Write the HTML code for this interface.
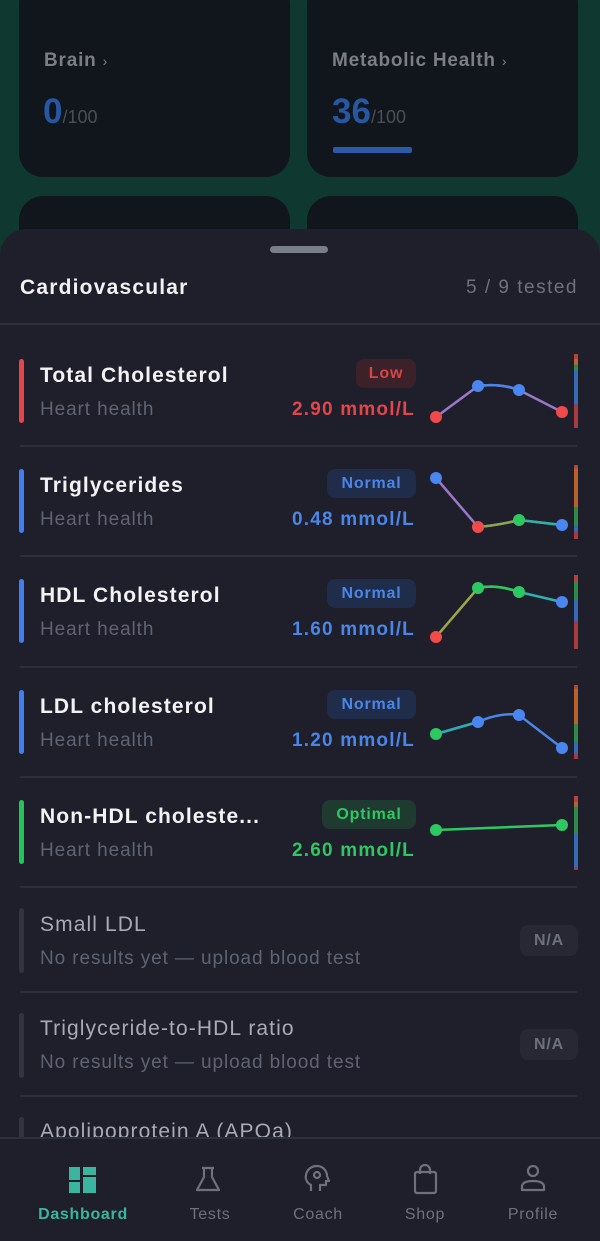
<!DOCTYPE html>
<html><head><meta charset="utf-8"><style>
*{margin:0;padding:0;box-sizing:border-box}
body{width:600px;height:1241px;overflow:hidden;position:relative;font-family:"Liberation Sans",sans-serif;background:linear-gradient(180deg,#0f3830 0%,#0f3a30 40%,#0e2e27 100%)}
.a{position:absolute}
.card{position:absolute;background:#11161c;border-radius:24px}
.sheet{position:absolute;left:0;top:229px;width:600px;height:1012px;background:#1f1f2b;border-radius:26px 26px 0 0}
.t{position:absolute;white-space:nowrap}
.bar{position:absolute;left:19px;width:5px;border-radius:3px}
.title{left:40px;font-size:21px;font-weight:bold;color:#f2f2f5;letter-spacing:1.1px}
.sub{left:40px;font-size:19px;color:#5f6372;letter-spacing:0.9px}
.badge{position:absolute;height:29px;border-radius:8px;font-size:16px;font-weight:bold;line-height:29px;text-align:center;letter-spacing:0.8px}
.val{right:185px;font-size:19px;font-weight:bold;text-align:right;letter-spacing:1.2px}
.div{position:absolute;left:20px;width:557px;height:2px;background:#2d2e3b}
.rb{position:absolute;left:574px;width:4px}
.nav{position:absolute;top:1137px;left:0;width:600px;height:104px;background:#1f1f2b;border-top:2px solid #2e2f3c}
.nl{position:absolute;top:1206px;font-size:16px;color:#6e717d;text-align:center;width:120px;letter-spacing:0.7px}
</style></head><body>
<div class="card" style="left:19px;top:-20px;width:271px;height:197px"></div>
<div class="card" style="left:307px;top:-20px;width:271px;height:197px"></div>
<div class="card" style="left:19px;top:196px;width:271px;height:80px"></div>
<div class="card" style="left:307px;top:196px;width:271px;height:80px"></div>
<div class="t" style="left:44px;top:50px;font-size:19px;font-weight:bold;color:#7b7f85;letter-spacing:0.8px">Brain <span style="font-weight:normal;font-size:14px">›</span></div>
<div class="t" style="left:332px;top:50px;font-size:19px;font-weight:bold;color:#7b7f85;letter-spacing:0.8px">Metabolic Health <span style="font-weight:normal;font-size:14px">›</span></div>
<div class="t" style="left:43px;top:92px;font-size:35px;font-weight:bold;color:#2557a3">0<span style="font-size:18px;font-weight:normal;color:#4b4f55">/100</span></div>
<div class="t" style="left:332px;top:92px;font-size:35px;font-weight:bold;color:#2557a3">36<span style="font-size:18px;font-weight:normal;color:#4b4f55">/100</span></div>
<div class="a" style="left:333px;top:147px;width:79px;height:6px;background:#2a5aa8;border-radius:2px"></div>

<div class="sheet"></div>
<div class="a" style="left:270px;top:246px;width:58px;height:7px;border-radius:4px;background:#7a7e8a"></div>
<div class="t" style="left:20px;top:276px;font-size:21px;font-weight:bold;color:#f2f2f5;letter-spacing:1.2px">Cardiovascular</div>
<div class="t" style="right:22px;top:277px;font-size:19px;color:#6e717d;letter-spacing:1.5px">5 / 9 tested</div>
<div class="a" style="left:0;top:323px;width:600px;height:2px;background:#2d2e3b"></div>

<!-- row 1 -->
<div class="bar" style="top:359px;height:64px;background:#e5444a"></div>
<div class="t title" style="top:364px">Total Cholesterol</div>
<div class="t sub" style="top:399px">Heart health</div>
<div class="badge" style="left:356px;top:359px;width:60px;background:#3d2128;color:#d9434a">Low</div>
<div class="t val" style="top:399px;color:#e5444a">2.90 mmol/L</div>
<div class="div" style="top:445px"></div>
<!-- row 2 -->
<div class="bar" style="top:469px;height:64px;background:#3f7ff0"></div>
<div class="t title" style="top:474px">Triglycerides</div>
<div class="t sub" style="top:509px">Heart health</div>
<div class="badge" style="left:327px;top:469px;width:89px;background:#1f2d4a;color:#4a86e8">Normal</div>
<div class="t val" style="top:509px;color:#4a86e8">0.48 mmol/L</div>
<div class="div" style="top:555px"></div>
<!-- row 3 -->
<div class="bar" style="top:579px;height:64px;background:#3f7ff0"></div>
<div class="t title" style="top:584px">HDL Cholesterol</div>
<div class="t sub" style="top:619px">Heart health</div>
<div class="badge" style="left:327px;top:579px;width:89px;background:#1f2d4a;color:#4a86e8">Normal</div>
<div class="t val" style="top:619px;color:#4a86e8">1.60 mmol/L</div>
<div class="div" style="top:666px"></div>
<!-- row 4 -->
<div class="bar" style="top:690px;height:64px;background:#3f7ff0"></div>
<div class="t title" style="top:695px">LDL cholesterol</div>
<div class="t sub" style="top:730px">Heart health</div>
<div class="badge" style="left:327px;top:690px;width:89px;background:#1f2d4a;color:#4a86e8">Normal</div>
<div class="t val" style="top:730px;color:#4a86e8">1.20 mmol/L</div>
<div class="div" style="top:776px"></div>
<!-- row 5 -->
<div class="bar" style="top:800px;height:64px;background:#25c45a"></div>
<div class="t title" style="top:805px">Non-HDL choleste...</div>
<div class="t sub" style="top:840px">Heart health</div>
<div class="badge" style="left:322px;top:800px;width:94px;background:#1f3a30;color:#2ec862">Optimal</div>
<div class="t val" style="top:840px;color:#2ec862">2.60 mmol/L</div>
<div class="div" style="top:886px"></div>
<!-- NA rows -->
<div class="bar" style="top:908px;height:65px;background:#33343f"></div>
<div class="t title" style="top:913px;color:#a8abb3;font-weight:normal">Small LDL</div>
<div class="t sub" style="top:948px">No results yet — upload blood test</div>
<div class="badge" style="left:520px;top:925px;width:58px;height:31px;line-height:31px;background:#272834;color:#6e717d">N/A</div>
<div class="div" style="top:991px"></div>
<div class="bar" style="top:1013px;height:65px;background:#33343f"></div>
<div class="t title" style="top:1017px;color:#a8abb3;font-weight:normal">Triglyceride-to-HDL ratio</div>
<div class="t sub" style="top:1052px">No results yet — upload blood test</div>
<div class="badge" style="left:520px;top:1029px;width:58px;height:31px;line-height:31px;background:#272834;color:#6e717d">N/A</div>
<div class="div" style="top:1095px"></div>
<div class="bar" style="top:1117px;height:30px;background:#33343f"></div>
<div class="t title" style="top:1120px;color:#a8abb3;font-weight:normal">Apolipoprotein A (APOa)</div>

<!-- right bars -->
<div class="rb" style="top:354px;height:74px;background:linear-gradient(#b84040 0 7%,#c0622a 7% 14%,#2f8a4a 14% 22%,#3868b8 22% 68%,#a83a40 68%)"></div>
<div class="rb" style="top:465px;height:74px;background:linear-gradient(#b84040 0 5%,#b8622a 5% 57%,#2f8a4a 57% 82%,#3868b8 82% 90%,#a83a40 90%)"></div>
<div class="rb" style="top:575px;height:74px;background:linear-gradient(#b84040 0 8%,#2f8a4a 8% 33%,#3868b8 33% 62%,#a83a40 62%)"></div>
<div class="rb" style="top:685px;height:74px;background:linear-gradient(#b84040 0 5%,#b8622a 5% 53%,#2f8a4a 53% 78%,#3868b8 78% 92%,#a83a40 92%)"></div>
<div class="rb" style="top:796px;height:74px;background:linear-gradient(#b84040 0 8%,#b8622a 8% 14%,#2f8a4a 14% 50%,#3868b8 50% 96%,#a83a40 96%)"></div>

<svg class="a" style="left:0;top:0" width="600" height="1241">
<g fill="none" stroke-width="2.5">
<path d="M436 417 L478 386 Q500 383 519 390 L562 412" stroke="#9a78c8"/>
<path d="M478 386 Q500 383 519 390" stroke="#4a86e8"/>
<path d="M436 478 L478 527 Q500 525 519 520 L562 525" stroke="#9a78c8"/>
<path d="M478 527 Q500 525 519 520" stroke="#8aa64a"/>
<path d="M519 520 L562 525" stroke="#2fb0a0"/>
<path d="M436 637 L478 588 Q496 584 519 592" stroke="#9aa84a"/>
<path d="M478 588 Q496 584 519 592" stroke="#2ec862"/>
<path d="M519 592 L562 602" stroke="#2fb0b0"/>
<path d="M436 734 L478 722 Q500 712 519 715 L562 748" stroke="#4a86e8"/>
<path d="M436 734 L478 722" stroke="#2faab0"/>
<path d="M436 830 L562 825" stroke="#2ec862"/>
</g>
<g>
<circle cx="436" cy="417" r="6" fill="#f04a4a"/><circle cx="478" cy="386" r="6" fill="#4a86f0"/><circle cx="519" cy="390" r="6" fill="#4a86f0"/><circle cx="562" cy="412" r="6" fill="#f04a4a"/>
<circle cx="436" cy="478" r="6" fill="#4a86f0"/><circle cx="478" cy="527" r="6" fill="#f04a4a"/><circle cx="519" cy="520" r="6" fill="#2ec862"/><circle cx="562" cy="525" r="6" fill="#4a86f0"/>
<circle cx="436" cy="637" r="6" fill="#f04a4a"/><circle cx="478" cy="588" r="6" fill="#2ec862"/><circle cx="519" cy="592" r="6" fill="#2ec862"/><circle cx="562" cy="602" r="6" fill="#4a86f0"/>
<circle cx="436" cy="734" r="6" fill="#2ec862"/><circle cx="478" cy="722" r="6" fill="#4a86f0"/><circle cx="519" cy="715" r="6" fill="#4a86f0"/><circle cx="562" cy="748" r="6" fill="#4a86f0"/>
<circle cx="436" cy="830" r="6" fill="#2ec862"/><circle cx="562" cy="825" r="6" fill="#2ec862"/>
</g>
</svg>

<div class="nav"></div>
<svg class="a" style="left:0;top:1160px" width="600" height="40">
<g fill="#3ab5a0"><rect x="69" y="7" width="11" height="13"/><rect x="83" y="7" width="13" height="8"/><rect x="83" y="17" width="13" height="16"/><rect x="69" y="22" width="11" height="11"/></g>
<g fill="none" stroke="#6e717d" stroke-width="2.2" stroke-linejoin="round">
<path d="M202 8h12M204 8v9l-7 13h22l-7-13V8"/>
<path d="M311 31v-6c-4-2-6-6-5-10 1-6 6-9 11-9 6 0 10 5 10 10l2 5h-3v4h-6v6"/><circle cx="317" cy="15" r="3"/>
<rect x="415" y="12" width="21" height="21" rx="2"/><path d="M420 14v-4a5 5 0 0 1 10 0v4"/>
<circle cx="533" cy="11" r="5"/><path d="M522 30v-3c0-4 4-6 11-6s11 2 11 6v3z"/>
</g>
</svg>
<div class="nl" style="left:23px;color:#3ab5a0;font-weight:bold">Dashboard</div>
<div class="nl" style="left:150px">Tests</div>
<div class="nl" style="left:258px">Coach</div>
<div class="nl" style="left:365px">Shop</div>
<div class="nl" style="left:473px">Profile</div>
</body></html>
